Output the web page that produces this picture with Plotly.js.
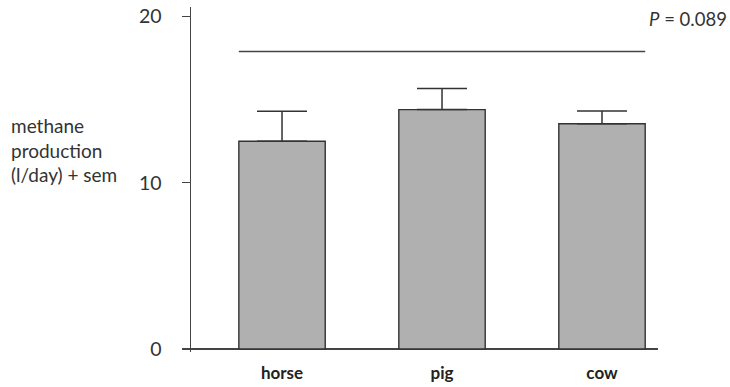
<!DOCTYPE html>
<html>
<head>
<meta charset="utf-8">
<script src="https://cdn.plot.ly/plotly-3.0.1.min.js"></script>
<style>html,body{margin:0;padding:0;background:#fff;}#chart{width:730px;height:387px;}</style>
</head>
<body>
<div id="chart"></div>
<script>
const categories = ['horse', 'pig', 'cow'];
const methane = [12.5, 14.4, 13.55];
const sem = [1.8, 1.27, 0.77];
const yTickVals = [0, 10, 20];
const yTitleLines = ['methane', 'production', '(l/day) + sem'];
const pValueText = '<i>P</i> = 0.089';
const bracketLevel = 17.9;

const W = 730, H = 387;
const M = {l: 191, r: 72, t: 7, b: 35};
const pw = W - M.l - M.r, ph = H - M.t - M.b;
const px2paperX = px => (px - M.l) / pw;
const px2paperY = py => (H - M.b - py) / ph;
const barW = 0.54;
const FONT = 'Lato, "Open Sans", sans-serif';

const trace = {
  type: 'bar',
  x: categories,
  y: methane,
  width: barW,
  marker: {color: '#b0b0b0', line: {color: '#333', width: 1.4}},
  error_y: {type: 'data', symmetric: false, array: sem, arrayminus: sem.map(() => 0),
            color: '#333', thickness: 1.5, width: 25},
  hoverinfo: 'none'
};

const layout = {
  width: W, height: H,
  margin: M,
  paper_bgcolor: '#fff', plot_bgcolor: '#fff',
  showlegend: false,
  font: {family: FONT, color: '#333'},
  xaxis: {
    type: 'category', range: [-0.569, 2.35],
    showline: false, showgrid: false, zeroline: false, ticks: '',
    tickfont: {family: FONT, size: 17, color: '#222', weight: 'bold'},
    ticklabelstandoff: 9
  },
  yaxis: {
    range: [-0.18, 20.57],
    tickvals: yTickVals, ticktext: yTickVals.map(String),
    showline: true, linecolor: '#444', linewidth: 1.5,
    ticks: 'outside', ticklen: 8, tickwidth: 1.5, tickcolor: '#444',
    showgrid: false,
    zeroline: true, zerolinecolor: '#444', zerolinewidth: 1.5,
    tickfont: {family: FONT, size: 19.5, color: '#333'},
    ticklabelstandoff: 16
  },
  shapes: [{
    type: 'line', xref: 'x', yref: 'y',
    x0: -barW / 2, x1: (categories.length - 1) + barW / 2,
    y0: bracketLevel, y1: bracketLevel,
    line: {color: '#444', width: 1.5}
  }],
  annotations: [
    {
      text: yTitleLines.join('<br>'), showarrow: false,
      xref: 'paper', yref: 'paper', x: px2paperX(9), y: px2paperY(150),
      xanchor: 'left', yanchor: 'middle', align: 'left',
      font: {family: FONT, size: 19, color: '#333'}
    },
    {
      text: pValueText, showarrow: false,
      xref: 'paper', yref: 'paper', x: px2paperX(729), y: px2paperY(19),
      xanchor: 'right', yanchor: 'middle', align: 'right',
      font: {family: FONT, size: 18.5, color: '#333'}
    }
  ]
};

Plotly.newPlot('chart', [trace], layout, {staticPlot: true, displayModeBar: false});
</script>
</body>
</html>
